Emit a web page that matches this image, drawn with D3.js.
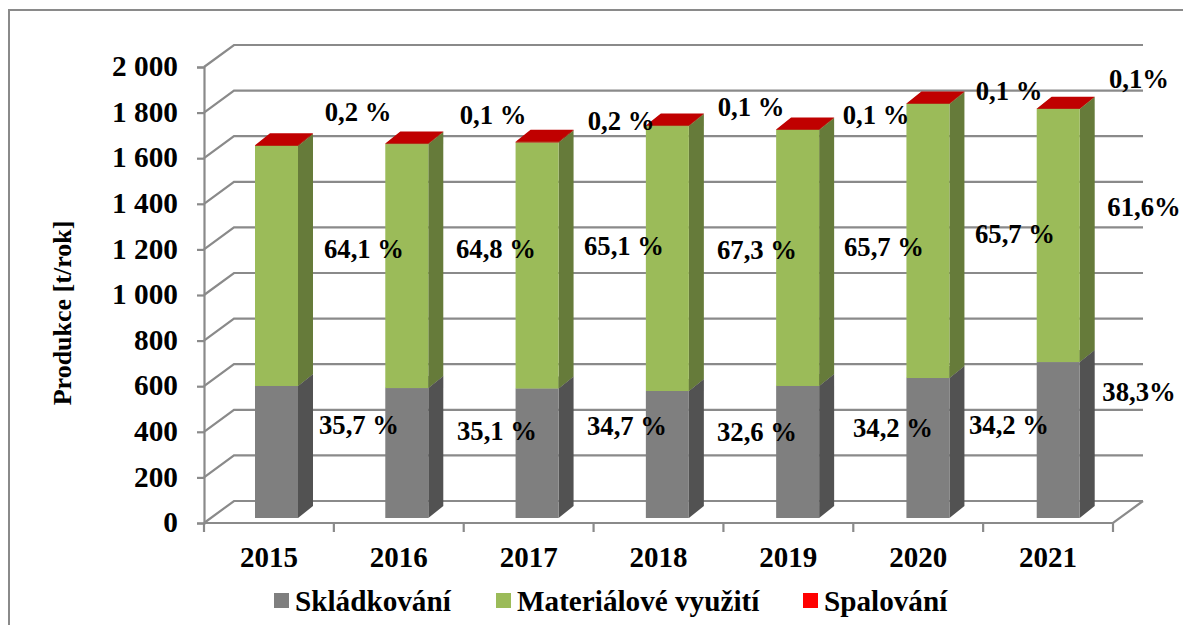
<!DOCTYPE html>
<html><head><meta charset="utf-8">
<script src="https://cdnjs.cloudflare.com/ajax/libs/d3/7.8.5/d3.min.js"></script>
<style>html,body{margin:0;padding:0;background:#fff}svg{display:block}
text{font-family:"Liberation Serif","Times New Roman",serif;font-weight:bold;fill:#000}</style>
</head><body><svg id="c" width="1183" height="625"></svg>
<script>
const years=["2015","2016","2017","2018","2019","2020","2021"];
const skladkovani=[579,570,568,557,579,614,684];
const materialove=[1053,1070,1079,1162,1123,1202,1110];
const spalovani=[3,2,3,2,2,2,1];
const yTicks=[0,200,400,600,800,1000,1200,1400,1600,1800,2000];
const pctSklad=["35,7 %","35,1 %","34,7 %","32,6 %","34,2 %","34,2 %","38,3%"];
const pctMat=["64,1 %","64,8 %","65,1 %","67,3 %","65,7 %","65,7 %","61,6%"];
const pctSpal=["0,2 %","0,1 %","0,2 %","0,1 %","0,1 %","0,1 %","0,1%"];
const seriesNames=["Skládkování","Materiálové využití","Spalování"];

// hand-placed label anchors (label centre), as in the source chart
const posSklad=[[359,425],[497,431],[627,426],[757,432],[893,428],[1009,425],[1139,392]];
const posMat=[[364,249],[496,249],[624,246],[757,250],[884,247],[1015,234],[1144,207]];
const posSpal=[[358,112],[493,115],[621,121],[751,107],[876,115],[1009,91],[1139,79]];

const svg=d3.select("#c");
const grid="#8a8a8a";
svg.append("rect").attr("x",9).attr("y",10).attr("width",1300).attr("height",800)
  .attr("fill","#fff").attr("stroke",grid).attr("stroke-width",2);

const y=d3.scaleLinear().domain([0,2000]).range([523,67]);
const x=d3.scaleBand().domain(years).range([204,1113]);
const xBar=d3.scaleBand().domain(years).range([204,1116]);
const dx=30,dy=-22;

const g=svg.append("g").attr("fill","none").attr("stroke",grid).attr("stroke-width",2.2);
yTicks.forEach(t=>{
  g.append("path").attr("d",`M${x.range()[0]},${y(t)}l${dx},${dy}H${1113+dx}`);
});
g.append("path").attr("d",`M204,523H1113l${dx},${dy}`);

const axL=svg.append("g").attr("transform","translate(204,0)")
  .call(d3.axisLeft(y).tickValues(yTicks).tickSize(7).tickPadding(19)
    .tickFormat(d=>d3.format(",")(d).replace(/,/g," ")));
const axB=svg.append("g").attr("transform","translate(0,523)")
  .call(d3.axisBottom(x).tickSize(0).tickPadding(0));
[axL,axB].forEach(a=>{a.selectAll("path,line").attr("stroke",grid).attr("stroke-width",2.2);
  a.select(".domain").attr("stroke",grid);});
axL.selectAll("text").attr("font-size",29.3).attr("dy",".3em").style("font-family",'"Liberation Serif"').style("font-weight","bold").attr("fill","#000");
axB.select(".domain").remove();
axB.selectAll("text").attr("font-size",29).attr("y",43.5).attr("dy",0).attr("fill","#000").style("font-family",'"Liberation Serif"').style("font-weight","bold");
// category boundary ticks
svg.append("g").selectAll("line").data([...years.map(d=>x(d)),x.range()[1]]).join("line")
  .attr("x1",d=>d).attr("x2",d=>d).attr("y1",523).attr("y2",532).attr("stroke",grid).attr("stroke-width",2.2);

// bars
const base=5, offs=51, bw=43, ddx=15, ddy=-12;
const cols=[
 {front:"#7f7f7f",side:"#525252",top:"#6a6a6a"},
 {front:"#9bbb59",side:"#667b3a",top:"#8aa64e"},
 {front:"#c00000",side:"#9a0000",top:"#c00000"}];
const stack=d3.stack().keys([0,1,2]).value((d,k)=>d[k])(years.map((_,i)=>[skladkovani[i],materialove[i],spalovani[i]]));
const bars=svg.append("g");
years.forEach((yr,i)=>{
  const X=xBar(yr)+offs;
  stack.forEach((s,k)=>{
    const yb=y(s[i][0])-base, yt=y(s[i][1])-base, c=cols[k];
    const b=bars.append("g");
    b.append("path").attr("fill",c.side).attr("d",`M${X+bw},${yb}l${ddx},${ddy}V${yt+ddy}l${-ddx},${-ddy}Z`);
    b.append("path").attr("fill",c.top).attr("d",`M${X},${yt}l${ddx},${ddy}h${bw}l${-ddx},${-ddy}Z`);
    b.append("rect").attr("x",X).attr("y",yt).attr("width",bw).attr("height",yb-yt).attr("fill",c.front);
  });
});

// data labels
function labels(txt,pos){
  svg.append("g").selectAll("text").data(txt).join("text")
    .attr("x",(d,i)=>pos[i][0]).attr("y",(d,i)=>pos[i][1]).attr("dy",".33em")
    .attr("text-anchor","middle").attr("font-size",26.7).text(d=>d);
}
labels(pctSklad,posSklad);labels(pctMat,posMat);labels(pctSpal,posSpal);

// y title
svg.append("text").attr("transform","translate(71,313) rotate(-90)").attr("text-anchor","middle")
  .attr("font-size",26).text("Produkce [t/rok]");

// legend
const legendCols=["#7f7f7f","#9bbb59","#ff0000"], legX=[274,496,803];
const leg=svg.append("g").selectAll("g").data(seriesNames).join("g")
  .attr("transform",(d,i)=>`translate(${legX[i]},593)`);
leg.append("rect").attr("width",15).attr("height",15).attr("fill",(d,i)=>legendCols[i]);
leg.append("text").attr("x",21).attr("y",18).attr("font-size",29.2).text(d=>d);
</script></body></html>
